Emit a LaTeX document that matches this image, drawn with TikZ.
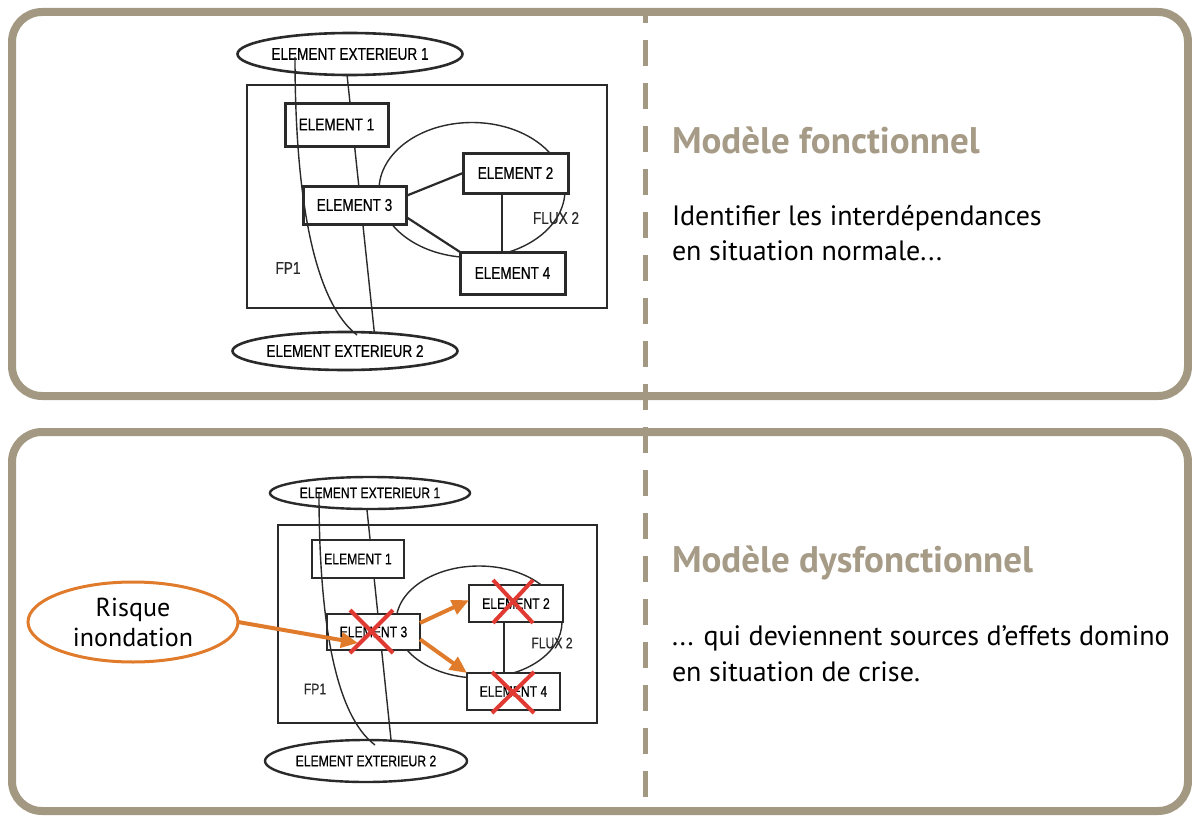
\documentclass[tikz,border=0pt]{standalone}
\usepackage{fontspec}
\setmainfont{PT Sans}
\newfontfamily\diafont[FakeStretch=0.8,FakeBold=0.6]{Liberation Sans}
\usetikzlibrary{arrows.meta,shapes.geometric,calc}
\definecolor{framec}{HTML}{A39882}
\definecolor{titlec}{HTML}{A69B87}
\definecolor{orng}{HTML}{E07B2C}
\definecolor{redx}{HTML}{E03A32}
\definecolor{ink}{HTML}{2A2A2A}
\begin{document}
\begin{tikzpicture}[x=1pt,y=-1pt,
  panel/.style={draw=framec,line width=8pt,rounded corners=30pt},
  divider/.style={draw=framec,line width=5pt,dash pattern=on 26pt off 17pt,dash phase=15pt},
  title/.style={anchor=base west,inner sep=0,outer sep=0,text=titlec,font=\bfseries\fontsize{37}{40}\selectfont},
  body/.style={anchor=base west,inner sep=0,outer sep=0,text=black,font=\fontsize{28}{30}\selectfont},
  elemA/.style={draw=ink,line width=3pt,fill=white,inner sep=0,outer sep=0,font=\diafont\fontsize{17}{17}\selectfont},
  elemB/.style={draw=ink,line width=2.8pt,fill=white,inner sep=0,outer sep=0,font=\diafont\fontsize{15.2}{15.2}\selectfont},
  extA/.style={ellipse,draw=ink,line width=2.6pt,fill=white,inner sep=0,outer sep=0,font=\diafont\fontsize{17}{17}\selectfont},
  extB/.style={ellipse,draw=ink,line width=2.4pt,fill=white,inner sep=0,outer sep=0,font=\diafont\fontsize{15.2}{15.2}\selectfont},
  flux/.style={ellipse,draw=ink,line width=1.4pt,inner sep=0,outer sep=0},
  lab/.style={inner sep=0,outer sep=0,text=ink},
  thinl/.style={draw=ink,line width=1.4pt},
  fp/.style={draw=ink,line width=1.6pt},
  oarrow/.style={draw=orng,line width=4pt,-{Triangle[length=17pt,width=15pt]}},
  redcross/.style={draw=redx,line width=4pt}
]
\useasboundingbox (0,0) rectangle (1192,816);
% panels
\draw[panel] (12,12) rectangle (1188,396);
\draw[panel] (12,432) rectangle (1188,811);
\coordinate (dtop) at (645,12);
\coordinate (dbot) at (645,811);
\draw[divider] (dtop) -- (dbot);

% texts
\node[title] (t1) at (672,153) {Modèle fonctionnel};
\node[body] (b1a) at (672,225) {Identifier les interdépendances};
\node[body] (b1b) at (672,260) {en situation normale...};
\node[title] (t2) at (672,572) {Modèle dysfonctionnel};
\node[body] (b2a) at (672,645) {... qui deviennent sources d’effets domino};
\node[body] (b2b) at (672,681) {en situation de crise.};

% ===== top diagram =====
\draw[fp] (247,85) rectangle (607,308);
\node[lab,font=\diafont\fontsize{17}{17}\selectfont] (fp1a) at (288,268) {FP1};
\node[flux,minimum width=186pt,minimum height=135pt] (fluxa) at (472,190) {};
\node[lab,font=\diafont\fontsize{17}{17}\selectfont] (fl2a) at (556,218) {FLUX 2};
\node[extA,minimum width=225pt,minimum height=42pt] (x1a) at (350,54) {ELEMENT EXTERIEUR 1};
\node[extA,minimum width=225pt,minimum height=38pt] (x2a) at (345,351) {ELEMENT EXTERIEUR 2};
\draw[thinl] (x1a.262) -- (x2a.32);
\node[elemA,minimum width=103pt,minimum height=43pt] (e1a) at (336.5,124.5) {ELEMENT 1};
\node[elemA,minimum width=103pt,minimum height=38pt] (e3a) at (354.5,205) {ELEMENT 3};
\node[elemA,minimum width=105pt,minimum height=40pt] (e2a) at (515.5,173) {ELEMENT 2};
\node[elemA,minimum width=105pt,minimum height=42pt] (e4a) at (512.5,273) {ELEMENT 4};
\coordinate (fxa) at (502,0);
\draw[thinl,line width=2.2pt] (e3a.10) -- (e2a.west);
\draw[thinl,line width=2.2pt] (e3a.-13) -- (e4a.north west);
\draw[thinl] (e2a.south -| fxa) -- (e4a.north -| fxa);
\coordinate (csa) at (295,57);
\coordinate (cea) at (357,335);
\draw[thinl] (csa) .. controls (295,190) and (312,300) .. (cea);

% ===== bottom diagram =====
\draw[fp] (278,525) rectangle (597,723);
\node[lab,font=\diafont\fontsize{15.2}{15.2}\selectfont] (fp1b) at (315,689) {FP1};
\node[flux,minimum width=166pt,minimum height=112pt] (fluxb) at (479,622) {};
\node[lab,font=\diafont\fontsize{15.2}{15.2}\selectfont] (fl2b) at (552,643) {FLUX 2};
\node[extB,minimum width=200pt,minimum height=32pt] (x1b) at (370,493) {ELEMENT EXTERIEUR 1};
\node[extB,minimum width=202pt,minimum height=42pt] (x2b) at (366,761) {ELEMENT EXTERIEUR 2};
\draw[thinl] (x1b.259) -- (x2b.39);
\node[elemB,minimum width=92pt,minimum height=38pt] (e1b) at (358,559) {ELEMENT 1};
\node[elemB,minimum width=93pt,minimum height=36pt] (e3b) at (373.5,632) {ELEMENT 3};
\node[elemB,minimum width=94pt,minimum height=37pt] (e2b) at (516,603.5) {ELEMENT 2};
\node[elemB,minimum width=93pt,minimum height=37pt] (e4b) at (513.5,691.5) {ELEMENT 4};
\coordinate (fxb) at (504,0);
\draw[thinl] (e2b.south -| fxb) -- (e4b.north -| fxb);
\coordinate (csb) at (319,493);
\coordinate (ceb) at (375,745);
\draw[thinl] (csb) .. controls (319,620) and (335,715) .. (ceb);

% risk
\node[ellipse,draw=orng,line width=3pt,fill=white,minimum width=210pt,minimum height=80pt,inner sep=0,outer sep=0,align=center,font=\fontsize{26}{30}\selectfont] (risk) at (133,622) {Risque\\inondation};
\coordinate (rtip) at (358,643);
\draw[oarrow] (risk.east) -- (rtip);
\draw[oarrow] (e3b.11) -- (e2b.176);
\draw[oarrow] (e3b.-9) -- (e4b.north west);

% red crosses
\draw[redcross] (350,610) -- (393,653) (350,653) -- (393,610);
\draw[redcross] (493,580) -- (533,623) (493,623) -- (533,580);
\draw[redcross] (492,672) -- (534,713) (492,713) -- (534,672);
\end{tikzpicture}
\end{document}
